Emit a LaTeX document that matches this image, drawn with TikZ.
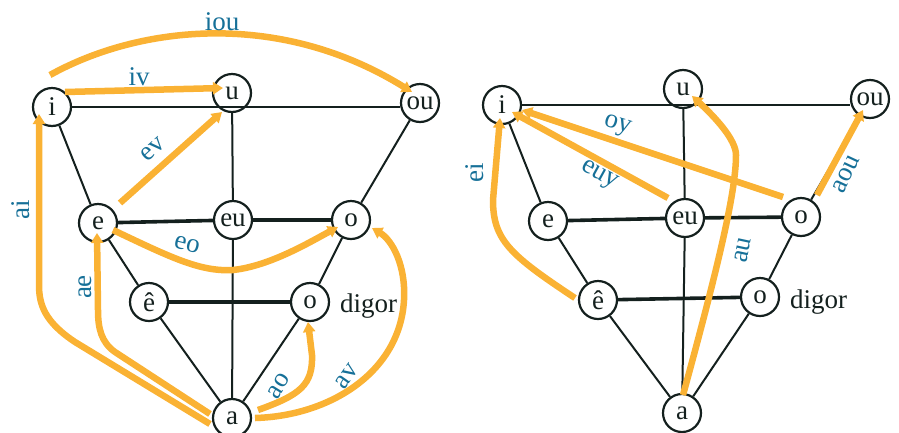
\documentclass[tikz,border=0pt]{standalone}
\usepackage{fontspec}
\setmainfont{Liberation Serif}
\usetikzlibrary{arrows.meta}
\definecolor{orng}{RGB}{250,178,52}
\definecolor{lblue}{RGB}{22,112,152}
\definecolor{ink}{RGB}{20,32,30}
\begin{document}
\begin{tikzpicture}[x=1pt,y=-1pt,
  vtx/.style={circle,draw=ink,line width=2.2pt,fill=white,minimum size=38pt,inner sep=0pt,
    font=\fontsize{27}{29}\selectfont,text=ink},
  edge/.style={draw=ink,line width=2pt},
  thickedge/.style={draw=ink,line width=3.6pt},
  arr/.style={draw=orng,line width=6.5pt,-{Triangle[length=10pt,width=12pt]}},
  lbl/.style={text=lblue,font=\fontsize{27}{29}\selectfont,inner sep=0pt},
  note/.style={text=ink,font=\fontsize{27}{29}\selectfont,inner sep=0pt,anchor=base west}]
\useasboundingbox (0,0) rectangle (899,432);

% ---------- left diagram ----------
\node[vtx] (Li)  at (52,107)  {i};
\node[vtx] (Lu)  at (232,93)  {u};
\node[vtx] (Lou) at (420,103) {ou};
\node[vtx] (Le)  at (98,223)  {e};
\node[vtx] (Leu) at (233,220) {eu};
\node[vtx] (Lo)  at (351,220) {o};
\node[vtx] (Lee) at (149,302) {ê};
\node[vtx] (Lod) at (310,302) {o};
\node[vtx] (La)  at (232,418) {a};
\node[note] (Ldig) at (340,312) {digor};

\draw[edge] (Li.east) -- (Li.east -| Lou.west);
\draw[edge] (Lu) -- (Leu);
\draw[edge] (Leu) -- (La);
\draw[edge] (Li) -- (Le);
\draw[edge] (Le) -- (Lee);
\draw[edge] (Lee) -- (La);
\draw[edge] (Lou) -- (Lo);
\draw[edge] (Lo) -- (Lod);
\draw[edge] (Lod) -- (La);
\draw[thickedge] (Le) -- (Leu);
\draw[thickedge] (Leu) -- (Lo);
\draw[thickedge] (Lee) -- (Lod);

\coordinate (Ltail) at (50,75);
\draw[arr] (Ltail) .. controls (140,25) and (280,10) .. ([shift={(-8,-11)}]Lou.center);
\draw[arr] ([shift={(13,-15)}]Li.center) -- ([shift={(-9,-5)}]Lu.center);
\draw[arr] ([shift={(22,-20)}]Le.center) -- ([shift={(-10,19)}]Lu.center);
\draw[arr] ([shift={(-22,6)}]La.center) -- (75,342) .. controls (45,322) and (39,305) .. (39,285) -- ([shift={(-13,7)}]Li.center);
\draw[arr] ([shift={(-22,-4)}]La.center) -- (115,352) .. controls (101,342) and (98,328) .. (98,310) -- ([shift={(-1,10)}]Le.center);
\draw[arr] ([shift={(15,7)}]Le.center) .. controls (170,257) and (200,272) .. (233,270) .. controls (270,266) and (310,242) .. ([shift={(-13,7)}]Lo.center);
\draw[arr] ([shift={(26,-8)}]La.center) .. controls (300,395) and (313,385) .. (312,355) -- ([shift={(-2,20)}]Lod.center);
\draw[arr] ([shift={(23,0)}]La.center) .. controls (330,416) and (400,372) .. (404,300) .. controls (406,265) and (392,240) .. ([shift={(21,8)}]Lo.center);

\node[lbl,anchor=base] (Liou) at (222,30) {iou};
\node[lbl,anchor=base] (Liv) at (139,85) {iv};
\node[lbl,rotate=42] (Lev) at (153,149) {ev};
\node[lbl,rotate=90] (Lai) at (21,210) {ai};
\node[lbl,rotate=90] (Lae) at (85,287) {ae};
\node[lbl,rotate=-14] (Leo) at (187,245) {eo};
\node[lbl,rotate=58] (Lao) at (279,386) {ao};
\node[lbl,rotate=55] (Lav) at (347,376) {av};

% ---------- right diagram ----------
\node[vtx] (Ri)  at (502,105) {i};
\node[vtx] (Ru)  at (683,89)  {u};
\node[vtx] (Rou) at (870,99)  {ou};
\node[vtx] (Re)  at (548,221) {e};
\node[vtx] (Reu) at (685,218) {eu};
\node[vtx] (Ro)  at (801,217) {o};
\node[vtx] (Ree) at (598,300) {ê};
\node[vtx] (Rod) at (760,297) {o};
\node[vtx] (Ra)  at (682,413) {a};
\node[note] (Rdig) at (790,308) {digor};

\draw[edge] (Ri.east) -- (Ri.east -| Rou.west);
\draw[edge] (Ru) -- (Reu);
\draw[edge] (Reu) -- (Ra);
\draw[edge] (Ri) -- (Re);
\draw[edge] (Re) -- (Ree);
\draw[edge] (Ree) -- (Ra);
\draw[edge] (Rou) -- (Ro);
\draw[edge] (Ro) -- (Rod);
\draw[edge] (Rod) -- (Ra);
\draw[thickedge] (Re) -- (Reu);
\draw[thickedge] (Reu) -- (Ro);
\draw[thickedge] (Ree) -- (Rod);

\draw[arr] ([shift={(-23,-2)}]Ree.center) .. controls (510,255) and (493,240) .. (493,200) -- ([shift={(-2,13)}]Ri.center);
\draw[arr] ([shift={(-17,-20)}]Reu.center) -- ([shift={(10,7)}]Ri.center);
\draw[arr] ([shift={(-18,-20)}]Ro.center) -- ([shift={(20,5)}]Ri.center);
\draw[arr] ([shift={(1,-18)}]Ra.center) .. controls (720,260) and (736,190) .. (736,155) .. controls (736,140) and (716,118) .. ([shift={(9,7)}]Ru.center);
\draw[arr] ([shift={(16,-22)}]Ro.center) -- ([shift={(-7,11)}]Rou.center);

\node[lbl,rotate=90] (Rei) at (475,173) {ei};
\node[lbl,rotate=-29] (Reuy) at (599,176) {euy};
\node[lbl,rotate=-17] (Roy) at (617,126) {oy};
\node[lbl,rotate=78] (Rau) at (743,250) {au};
\node[lbl,rotate=65] (Raou) at (846,174) {aou};
\end{tikzpicture}
\end{document}
